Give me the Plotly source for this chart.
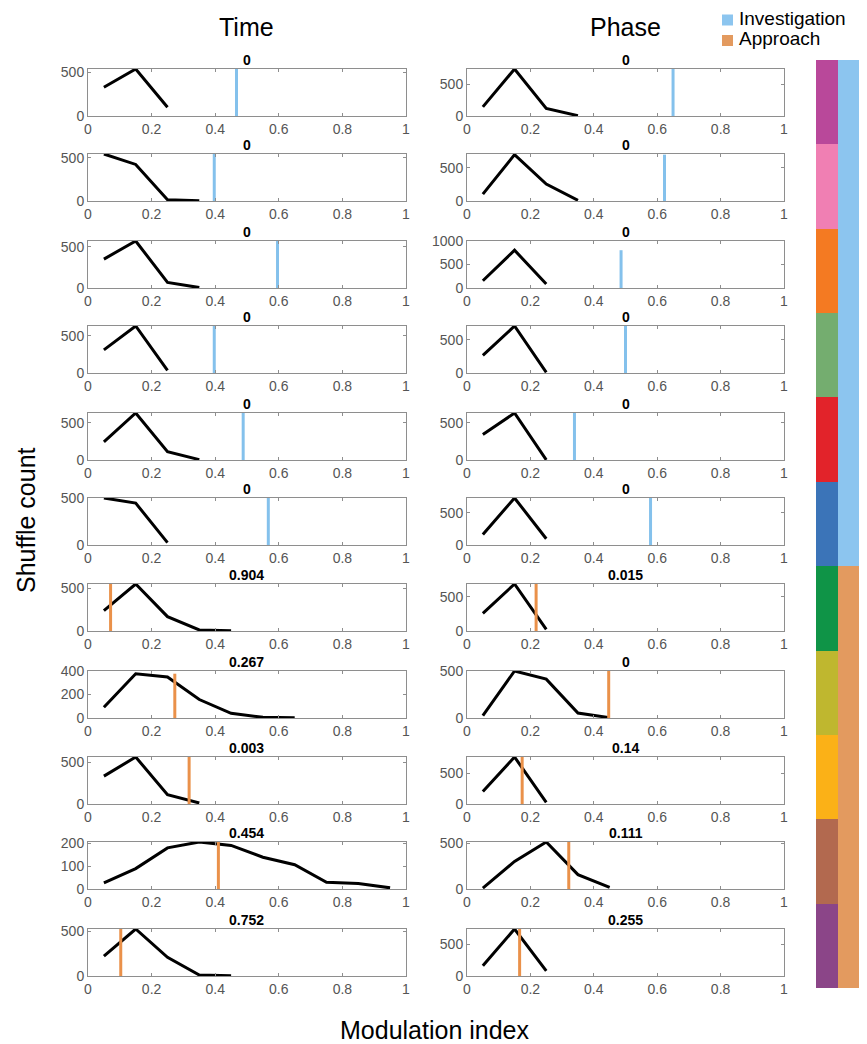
import plotly.graph_objects as go

# ---------------- data ----------------
bins = [0.05, 0.15, 0.25, 0.35, 0.45, 0.55, 0.65, 0.75, 0.85, 0.95]

time_counts = [
    [330, 540, 100],
    [545, 424, 15, 3],
    [352, 572, 68, 5],
    [312, 634, 36],
    [245, 634, 112, 5],
    [505, 450, 25],
    [238, 550, 168, 12, 3],
    [91, 377, 349, 157, 40, 6, 2],
    [332, 560, 112, 12],
    [27, 90, 181, 207, 192, 140, 107, 30, 24, 5],
    [220, 523, 208, 11, 2],
]
time_mi = [0.467, 0.397, 0.596, 0.397, 0.488, 0.567, 0.071, 0.273, 0.318, 0.41, 0.103]
time_p = ["0", "0", "0", "0", "0", "0", "0.904", "0.267", "0.003", "0.454", "0.752"]
time_ylim = [540, 545, 572, 634, 634, 505, 550, 400, 560, 207, 523]
time_dtick = [500, 500, 500, 500, 500, 500, 500, 200, 500, 100, 500]

phase_counts = [
    [144, 740, 118, 5],
    [103, 696, 255, 10],
    [154, 804, 84],
    [265, 710, 10],
    [343, 634, 2],
    [165, 732, 98],
    [257, 684, 24],
    [25, 505, 418, 54, 3],
    [201, 760, 27],
    [10, 300, 511, 156, 18],
    [161, 742, 81],
]
phase_mi = [0.65, 0.623, 0.486, 0.50, 0.339, 0.579, 0.218, 0.447, 0.174, 0.321, 0.166]
phase_p = ["0", "0", "0", "0", "0", "0", "0.015", "0", "0.14", "0.111", "0.255"]
phase_ylim = [740, 706, 1000, 710, 634, 732, 684, 505, 760, 511, 742]
phase_dtick = [500] * 11

groups = ["Investigation"] * 6 + ["Approach"] * 5
cell_colors = ["#b9489a", "#f07fb3", "#f47a22", "#74ad6f", "#e2232a", "#3b74b8",
               "#0f9447", "#bfb72f", "#fbb117", "#b2694f", "#8b4588"]
group_names = ["Investigation", "Approach"]
group_colors = {"Investigation": "#8cc5ef", "Approach": "#e39a5f"}
line_colors = {"Investigation": "#84c1ec", "Approach": "#ea914a"}

x_ticks = [0, 0.2, 0.4, 0.6, 0.8, 1]
x_ticktext = ["0", "0.2", "0.4", "0.6", "0.8", "1"]

# ---------------- layout geometry (page pixels) ----------------
PAGE_W, PAGE_H = 867, 1044
OFF = 8  # default page body margin
W, H = PAGE_W - OFF, PAGE_H - OFF
FONT = "Arial, Liberation Sans, sans-serif"
col_x = [(88, 406), (467, 784)]
row_tops = [69, 154, 241, 326, 413, 498, 584, 671, 757, 842, 929]
row_h = 47
bar_x = (816, 860)
bar_y = (60, 988)
leg_x = (722, 866)
leg_y = (8, 52)


def fx(p):
    return (p - OFF) / W


def fy(p):
    return 1 - (p - OFF) / H


fig = go.Figure()
layout = {}
annotations = []
axis_grey = "#8e8e8e"

panels = []
for r in range(11):
    panels.append((0, r, time_counts[r], time_mi[r], time_p[r], time_ylim[r], time_dtick[r]))
    panels.append((1, r, phase_counts[r], phase_mi[r], phase_p[r], phase_ylim[r], phase_dtick[r]))

for i, (c, r, counts, mi, ptxt, ylim, dt) in enumerate(panels):
    n = i + 1
    xa = "x" if n == 1 else f"x{n}"
    ya = "y" if n == 1 else f"y{n}"
    xs = bins[:len(counts)]
    fig.add_trace(go.Scatter(x=xs, y=counts, mode="lines",
                             line=dict(color="black", width=3),
                             xaxis=xa, yaxis=ya, showlegend=False, hoverinfo="skip"))
    grp = groups[r]
    fig.add_trace(go.Scatter(x=[mi, mi], y=[0, max(counts)], mode="lines",
                             line=dict(color=line_colors[grp], width=3),
                             xaxis=xa, yaxis=ya, showlegend=False, hoverinfo="skip"))
    top = row_tops[r]
    x0, x1 = col_x[c]
    yt = list(range(0, ylim + 1, dt))
    layout["xaxis" if n == 1 else f"xaxis{n}"] = dict(
        domain=[fx(x0), fx(x1)], anchor=ya, range=[0, 1], automargin=False,
        tickvals=x_ticks, ticktext=x_ticktext,
        ticks="inside", ticklen=3, tickcolor=axis_grey,
        showline=True, linecolor=axis_grey, linewidth=1, mirror="ticks",
        showgrid=False, zeroline=False,
        tickfont=dict(family=FONT, size=14, color="#555555"),
    )
    layout["yaxis" if n == 1 else f"yaxis{n}"] = dict(
        domain=[fy(top + row_h), fy(top)], anchor=xa, range=[0, ylim], automargin=False,
        tickvals=yt, ticks="inside", ticklen=3, tickcolor=axis_grey,
        showline=True, linecolor=axis_grey, linewidth=1, mirror="ticks",
        showgrid=False, zeroline=False,
        tickfont=dict(family=FONT, size=14, color="#555555"),
    )
    annotations.append(dict(text=f"<b>{ptxt}</b>", x=fx((x0 + x1) / 2), y=fy(top - 9),
                            xref="paper", yref="paper", xanchor="center", yanchor="middle",
                            showarrow=False, font=dict(family=FONT, size=14, color="black")))

# ---------------- color bars ----------------
nb = len(panels) + 1
bxa, bya = f"x{nb}", f"y{nb}"
fig.add_trace(go.Bar(x=[0] * len(cell_colors), y=[1] * len(cell_colors),
                     base=list(range(len(cell_colors))), width=1,
                     marker=dict(color=cell_colors, line=dict(width=0)),
                     xaxis=bxa, yaxis=bya, showlegend=False, hoverinfo="skip"))
start = 0
for g in group_names:
    cnt = groups.count(g)
    fig.add_trace(go.Bar(x=[1], y=[cnt], base=[start], width=1, name=g,
                         marker=dict(color=group_colors[g], line=dict(width=0)),
                         xaxis=bxa, yaxis=bya, showlegend=False, hoverinfo="skip"))
    start += cnt

layout[f"xaxis{nb}"] = dict(domain=[fx(bar_x[0]), fx(bar_x[1])], anchor=bya, range=[-0.5, 1.5],
                            visible=False, showgrid=False, zeroline=False, automargin=False)
layout[f"yaxis{nb}"] = dict(domain=[fy(bar_y[1]), fy(bar_y[0])], anchor=bxa, range=[len(groups), 0],
                            visible=False, showgrid=False, zeroline=False, automargin=False)

# ---------------- legend (key) ----------------
nl = nb + 1
lxa, lya = f"x{nl}", f"y{nl}"
key_y = list(range(len(group_names)))
fig.add_trace(go.Scatter(x=[0] * len(group_names), y=key_y, mode="markers",
                         marker=dict(symbol="square", size=11,
                                     color=[group_colors[g] for g in group_names]),
                         cliponaxis=False,
                         xaxis=lxa, yaxis=lya, showlegend=False, hoverinfo="skip"))
fig.add_trace(go.Scatter(x=[1] * len(group_names), y=key_y, mode="text",
                         text=group_names, textposition="middle right",
                         textfont=dict(family=FONT, size=19, color="black"),
                         cliponaxis=False,
                         xaxis=lxa, yaxis=lya, showlegend=False, hoverinfo="skip"))
# key axis: x=0 at square centre, x=1 at text start; y=0 / y=1 at the two row centres
sq_px, txt_px = 727.5, 739
row0_px, row1_px = 20, 40.5
px_per_unit_x = txt_px - sq_px
layout[f"xaxis{nl}"] = dict(domain=[fx(leg_x[0]), fx(leg_x[1])], anchor=lya,
                            range=[-(sq_px - leg_x[0]) / px_per_unit_x,
                                   (leg_x[1] - sq_px) / px_per_unit_x],
                            visible=False, showgrid=False, zeroline=False, automargin=False)
px_per_unit_y = row1_px - row0_px
layout[f"yaxis{nl}"] = dict(domain=[fy(leg_y[1]), fy(leg_y[0])], anchor=lxa,
                            range=[(leg_y[1] - row0_px) / px_per_unit_y, -(row0_px - leg_y[0]) / px_per_unit_y],
                            visible=False, showgrid=False, zeroline=False, automargin=False)

# ---------------- big labels ----------------
annotations += [
    dict(text="Time", x=fx(247), y=fy(27), xref="paper", yref="paper", showarrow=False,
         xanchor="center", yanchor="middle", font=dict(family=FONT, size=25, color="black")),
    dict(text="Phase", x=fx(625), y=fy(27), xref="paper", yref="paper", showarrow=False,
         xanchor="center", yanchor="middle", font=dict(family=FONT, size=25, color="black")),
    dict(text="Shuffle count", x=fx(26), y=fy(520), xref="paper", yref="paper", showarrow=False,
         textangle=-90, xanchor="center", yanchor="middle", font=dict(family=FONT, size=25, color="black")),
    dict(text="Modulation index", x=fx(435), y=fy(1030), xref="paper", yref="paper", showarrow=False,
         xanchor="center", yanchor="middle", font=dict(family=FONT, size=25, color="black")),
]

fig.update_layout(
    template="none",
    width=W, height=H, margin=dict(l=0, r=0, t=0, b=0, pad=0, autoexpand=False),
    paper_bgcolor="white", plot_bgcolor="white",
    barmode="overlay", bargap=0, showlegend=False,
    annotations=annotations,
    **layout,
)

fig.write_html("out.html")
